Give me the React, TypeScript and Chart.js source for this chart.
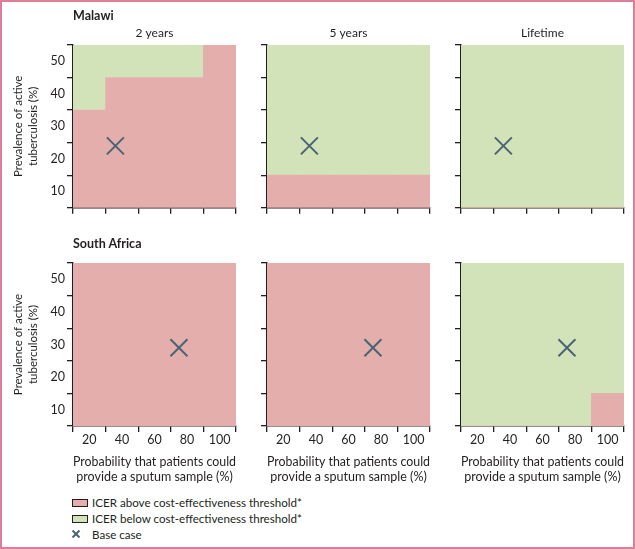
import React, { useEffect, useRef } from 'react';
import { Chart, registerables } from 'chart.js';

Chart.register(...registerables);

// ---------- data ----------
const xCategories = [20, 40, 60, 80, 100]; // probability that patients could provide sputum (%)
const xBounds = [10, 30, 50, 70, 90, 110];
const yBounds = [5, 15, 25, 35, 45, 55];
const xTickLabels = ['20', '40', '60', '80', '100'];
const yTickLabels = ['10', '20', '30', '40', '50'];

// prevalence (%) above which ICER is below threshold (green); below it ICER is above threshold (red)
const malawi2y = [35, 45, 45, 45, 55];
const malawi5y = [15, 15, 15, 15, 15];
const malawiLifetime = [5, 5, 5, 5, 5];
const southAfrica2y = [55, 55, 55, 55, 55];
const southAfrica5y = [55, 55, 55, 55, 55];
const southAfricaLifetime = [5, 5, 5, 5, 15];

const malawiBaseCase = [36, 24];
const southAfricaBaseCase = [75, 29];

const panelTitles = ['2 years', '5 years', 'Lifetime'];
const countryNames = ['Malawi', 'South Africa'];
const legendLabels = [
  'ICER above cost-effectiveness threshold*',
  'ICER below cost-effectiveness threshold*',
  'Base case',
];
const yTitle = ['Prevalence of active', 'tuberculosis (%)'];
const xTitle = ['Probability that patients could', 'provide a sputum sample (%)'];

// ---------- style ----------
const RED = '#e3aeab';
const GREEN = '#d3e3b9';
const MARK = '#4b6473';
const AXIS = '#231f20';
const TEXT = '#231f20';
const FRAME = '#dc7e9a';
const FONT = 'Lato, "Open Sans", sans-serif';

Chart.defaults.font.family = FONT;
Chart.defaults.color = TEXT;

const PLOT = 163;
const colLeft = [73, 267, 461];

type PanelProps = {
  thr: number[];
  base: number[];
  row: number;
  col: number;
};

function Panel({ thr, base, row, col }: PanelProps) {
  const ref = useRef<HTMLCanvasElement>(null);
  const yAxisW = col === 0 ? 73 : 14;
  const rightPad = 4;
  const width = yAxisW + PLOT + rightPad;
  const left = colLeft[col] - yAxisW;
  const hasTitle = row === 0;
  const padTop = hasTitle ? 5.8 : 12;
  const titleH = hasTitle ? 12 * 1.2 + 4.8 : 0;
  const xAxisH = row === 1 ? 58.7 : 10;
  const padBottom = 1.3;
  const top = row === 0 ? 20 : 251;
  const height = Math.round(padTop + titleH + PLOT + xAxisH + padBottom);
  const showY = col === 0;
  const showX = row === 1;
  const half = PLOT / 5 / 2;

  useEffect(() => {
    const canvas = ref.current!;
    const chart = new Chart(canvas, {
      type: 'bar',
      data: {
        datasets: [
          {
            type: 'scatter',
            label: legendLabels[2],
            data: [{ x: base[0], y: base[1] }],
            pointStyle: 'crossRot',
            pointRadius: 12,
            pointHoverRadius: 12,
            borderColor: MARK,
            backgroundColor: MARK,
            borderWidth: 2,
            order: 0,
          } as any,
          {
            type: 'bar',
            label: legendLabels[0],
            data: xCategories.map((x, i) => ({ x, y: [5, thr[i]] })),
            backgroundColor: RED,
            borderWidth: 0,
            grouped: false,
            barPercentage: 1,
            categoryPercentage: 1,
            order: 1,
          } as any,
          {
            type: 'bar',
            label: legendLabels[1],
            data: xCategories.map((x, i) => ({ x, y: [thr[i], 55] })),
            backgroundColor: GREEN,
            borderWidth: 0,
            grouped: false,
            barPercentage: 1,
            categoryPercentage: 1,
            order: 2,
          } as any,
        ],
      },
      options: {
        animation: false,
        responsive: false,
        maintainAspectRatio: false,
        devicePixelRatio: 1,
        events: [],
        layout: {
          autoPadding: false,
          padding: { top: padTop, bottom: padBottom, left: 0, right: rightPad },
        },
        plugins: {
          legend: { display: false },
          tooltip: { enabled: false },
          title: {
            display: hasTitle,
            text: panelTitles[col],
            fullSize: false,
            font: { size: 12, weight: 'normal', lineHeight: 1.2 },
            color: TEXT,
            padding: { top: 0, bottom: 4.8 },
          },
        },
        scales: {
          x: {
            type: 'linear',
            min: 10,
            max: 110,
            offset: false,
            z: 1,
            afterBuildTicks: (s: any) => {
              s.ticks = xBounds.map((v) => ({ value: v }));
            },
            afterFit: (s: any) => {
              s.height = xAxisH;
            },
            ticks: {
              display: showX,
              autoSkip: false,
              maxRotation: 0,
              padding: 0.8,
              labelOffset: half,
              font: { size: 12.5, lineHeight: 1.2 },
              color: TEXT,
              callback: (_v: any, i: number) => xTickLabels[i] ?? '',
            },
            grid: {
              offset: false,
              drawOnChartArea: false,
              drawTicks: true,
              tickLength: 6,
              color: AXIS,
              lineWidth: 1.3,
            },
            border: { display: true, color: AXIS, width: 1.5 },
            title: {
              display: showX,
              text: xTitle,
              font: { size: 12.5, lineHeight: 1.23 },
              color: TEXT,
              padding: { top: 0, bottom: 0 },
            },
          },
          y: {
            type: 'linear',
            min: 5,
            max: 55,
            z: 1,
            afterBuildTicks: (s: any) => {
              s.ticks = yBounds.map((v) => ({ value: v }));
            },
            afterFit: (s: any) => {
              s.width = yAxisW;
            },
            ticks: {
              display: showY,
              autoSkip: false,
              padding: 2,
              labelOffset: -half,
              font: { size: 12.5, lineHeight: 1.2 },
              color: TEXT,
              callback: (_v: any, i: number) => yTickLabels[i] ?? '',
            },
            grid: {
              drawOnChartArea: false,
              drawTicks: true,
              tickLength: 6,
              color: AXIS,
              lineWidth: 1.3,
            },
            border: { display: true, color: AXIS, width: 1.5 },
            title: {
              display: showY,
              text: yTitle,
              font: { size: 11.5, lineHeight: 1.36 },
              color: TEXT,
              padding: { top: 10.2, bottom: 0 },
            },
          },
        },
      } as any,
    });
    return () => chart.destroy();
  }, []);

  return (
    <canvas
      ref={ref}
      width={width}
      height={height}
      style={{ position: 'absolute', left, top, width, height }}
    />
  );
}

const panels = [
  { thr: malawi2y, base: malawiBaseCase, row: 0, col: 0 },
  { thr: malawi5y, base: malawiBaseCase, row: 0, col: 1 },
  { thr: malawiLifetime, base: malawiBaseCase, row: 0, col: 2 },
  { thr: southAfrica2y, base: southAfricaBaseCase, row: 1, col: 0 },
  { thr: southAfrica5y, base: southAfricaBaseCase, row: 1, col: 1 },
  { thr: southAfricaLifetime, base: southAfricaBaseCase, row: 1, col: 2 },
];

const textStyle: React.CSSProperties = {
  position: 'absolute',
  fontFamily: FONT,
  color: TEXT,
  fontSize: 12.5,
  lineHeight: '16px',
  whiteSpace: 'nowrap',
};

export default function App() {
  const swatches = [RED, GREEN];
  return (
    <div
      style={{
        position: 'absolute',
        left: 0,
        top: 0,
        width: 635,
        height: 549,
        background: '#fff',
        overflow: 'hidden',
      }}
    >
      {panels.map((p, i) => (
        <Panel key={i} {...p} />
      ))}
      <div style={{ ...textStyle, left: 73, top: 8, fontWeight: 'bold' }}>{countryNames[0]}</div>
      <div style={{ ...textStyle, left: 73, top: 236, fontWeight: 'bold' }}>{countryNames[1]}</div>
      {swatches.map((c, i) => (
        <div key={i}>
          <div
            style={{
              position: 'absolute',
              left: 72,
              top: 499 + i * 16,
              width: 16,
              height: 8,
              boxSizing: 'border-box',
              border: `1px solid ${AXIS}`,
              background: c,
            }}
          />
          <div style={{ ...textStyle, fontSize: 11.6, left: 92, top: 495 + i * 16 }}>
            {legendLabels[i]}
          </div>
        </div>
      ))}
      <svg width={10} height={10} style={{ position: 'absolute', left: 71, top: 529 }}>
        <line x1={1.5} y1={1.5} x2={8.5} y2={8.5} stroke={MARK} strokeWidth={2} />
        <line x1={8.5} y1={1.5} x2={1.5} y2={8.5} stroke={MARK} strokeWidth={2} />
      </svg>
      <div style={{ ...textStyle, fontSize: 11.6, left: 92, top: 527 }}>{legendLabels[2]}</div>
      <div
        style={{
          position: 'absolute',
          left: 0,
          top: 0,
          width: 635,
          height: 549,
          boxSizing: 'border-box',
          border: `2px solid ${FRAME}`,
          pointerEvents: 'none',
        }}
      />
    </div>
  );
}
